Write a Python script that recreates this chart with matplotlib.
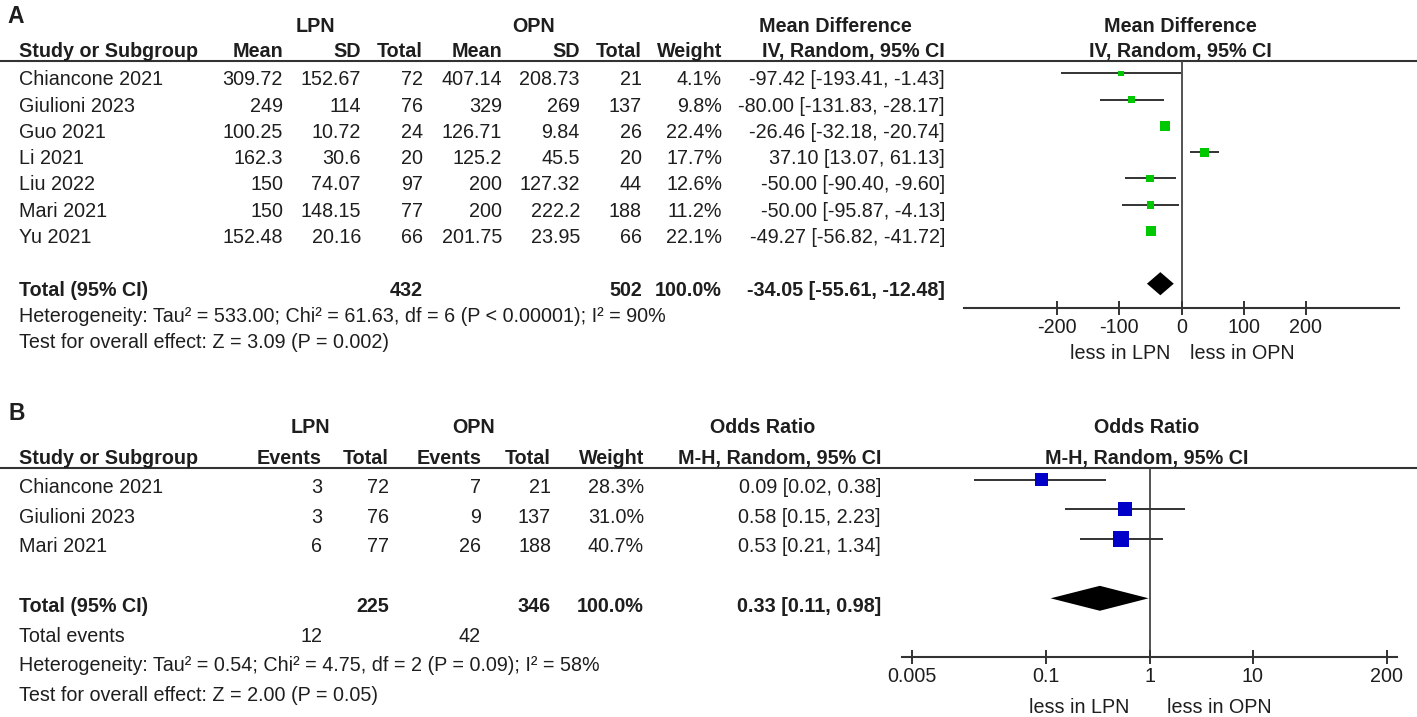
import numpy as np
import matplotlib
matplotlib.use("Agg")
import matplotlib.pyplot as plt
from matplotlib.ticker import FixedLocator, FixedFormatter, NullLocator

# ---- panel A: operative time (mean difference) ----
studies_a = ["Chiancone 2021", "Giulioni 2023", "Guo 2021", "Li 2021",
             "Liu 2022", "Mari 2021", "Yu 2021"]
lpn_mean = [309.72, 249, 100.25, 162.3, 150, 150, 152.48]
lpn_sd = [152.67, 114, 10.72, 30.6, 74.07, 148.15, 20.16]
lpn_n = [72, 76, 24, 20, 97, 77, 66]
opn_mean = [407.14, 329, 126.71, 125.2, 200, 200, 201.75]
opn_sd = [208.73, 269, 9.84, 45.5, 127.32, 222.2, 23.95]
opn_n = [21, 137, 26, 20, 44, 188, 66]
weight_a = [4.1, 9.8, 22.4, 17.7, 12.6, 11.2, 22.1]
md = [-97.42, -80.00, -26.46, 37.10, -50.00, -50.00, -49.27]
md_lo = [-193.41, -131.83, -32.18, 13.07, -90.40, -95.87, -56.82]
md_hi = [-1.43, -28.17, -20.74, 61.13, -9.60, -4.13, -41.72]
total_a = [432, 502]
pooled_md = [-34.05, -55.61, -12.48]
het_a = "Heterogeneity: Tau² = 533.00; Chi² = 61.63, df = 6 (P < 0.00001); I² = 90%"
test_a = "Test for overall effect: Z = 3.09 (P = 0.002)"
ticks_a = [-200, -100, 0, 100, 200]

# ---- panel B: complications (odds ratio) ----
studies_b = ["Chiancone 2021", "Giulioni 2023", "Mari 2021"]
lpn_events = [3, 3, 6]
lpn_total = [72, 76, 77]
opn_events = [7, 9, 26]
opn_total = [21, 137, 188]
weight_b = [28.3, 31.0, 40.7]
odds = [0.09, 0.58, 0.53]
odds_lo = [0.02, 0.15, 0.21]
odds_hi = [0.38, 2.23, 1.34]
total_b = [225, 346]
total_events = [12, 42]
pooled_or = [0.33, 0.11, 0.98]
het_b = "Heterogeneity: Tau² = 0.54; Chi² = 4.75, df = 2 (P = 0.09); I² = 58%"
test_b = "Test for overall effect: Z = 2.00 (P = 0.05)"
ticks_b = [0.005, 0.1, 1, 10, 200]

W, H, DPI = 1417, 717, 100
FS = 14.2
TXT = "#1e1e1e"
LINE = "#333333"
PT = DPI / 72.0

plt.rcParams["font.family"] = ["Liberation Sans", "DejaVu Sans"]
plt.rcParams["axes.unicode_minus"] = False

fig = plt.figure(figsize=(W / DPI, H / DPI), dpi=DPI)
tab = fig.add_axes([0, 0, 1, 1])
tab.set_xlim(0, W)
tab.set_ylim(H, 0)
tab.axis("off")


def txt(x, y, s, ha="right", bold=False, size=FS):
    tab.text(x, y, s, ha=ha, va="baseline", fontsize=size, color=TXT,
             fontweight="bold" if bold else "normal")


def forest(left, right, top, bottom, row0, step, est, lo, hi, side_px,
           pooled, dh, color, null):
    ax = fig.add_axes([left / W, 1 - bottom / H, (right - left) / W, (bottom - top) / H])
    ax.patch.set_alpha(0)
    ax.set_ylim((bottom - row0) / step, (top - row0) / step)
    rows = np.arange(len(est))
    ax.hlines(rows, lo, hi, color=LINE, lw=1.4, zorder=2)
    ax.scatter(est, rows, marker="s", s=(np.asarray(side_px) / PT) ** 2,
               color=color, linewidths=0, zorder=3)
    r = len(est) + 1
    ax.fill([pooled[1], pooled[0], pooled[2], pooled[0]],
            [r, r - dh, r, r + dh], color="black", lw=0, zorder=3)
    ax.axvline(null, color="#444444", lw=1.3, zorder=1)
    for s in ["top", "left", "right"]:
        ax.spines[s].set_visible(False)
    ax.spines["bottom"].set_color(LINE)
    ax.spines["bottom"].set_linewidth(1.5)
    ax.set_yticks([])
    ax.tick_params(axis="x", direction="inout", length=10, width=1.4,
                   colors=LINE, labelcolor=TXT, labelsize=FS, pad=2)
    return ax


# ================= panel A =================
a_row0, a_step, a_off = 73.3, 26.3, 12
a_text = lambda i: a_row0 + a_step * i + a_off

txt(7, 23, "A", ha="left", bold=True, size=16.5)
txt(315, 32, "LPN", ha="center", bold=True)
txt(534, 32, "OPN", ha="center", bold=True)
txt(835, 32, "Mean Difference", ha="center", bold=True)
txt(1180, 32, "Mean Difference", ha="center", bold=True)

cols_a = [283, 361, 423, 502, 580, 642, 722, 945]
heads_a = ["Mean", "SD", "Total", "Mean", "SD", "Total", "Weight", "IV, Random, 95% CI"]
txt(19, 57, "Study or Subgroup", ha="left", bold=True)
for x, h in zip(cols_a, heads_a):
    txt(x, 57, h, bold=True)
txt(1180, 57, "IV, Random, 95% CI", ha="center", bold=True)
tab.plot([0, W], [61, 61], color=LINE, lw=1.5)

for i, name in enumerate(studies_a):
    y = a_text(i)
    txt(19, y, name, ha="left")
    vals = [f"{lpn_mean[i]:g}", f"{lpn_sd[i]:g}", str(lpn_n[i]),
            f"{opn_mean[i]:g}", f"{opn_sd[i]:g}", str(opn_n[i]),
            f"{weight_a[i]:.1f}%",
            f"{md[i]:.2f} [{md_lo[i]:.2f}, {md_hi[i]:.2f}]"]
    for x, v in zip(cols_a, vals):
        txt(x, y, v)

y = a_text(8)
txt(19, y, "Total (95% CI)", ha="left", bold=True)
txt(cols_a[2], y, str(total_a[0]), bold=True)
txt(cols_a[5], y, str(total_a[1]), bold=True)
txt(cols_a[6], y, "100.0%", bold=True)
txt(cols_a[7], y, f"{pooled_md[0]:.2f} [{pooled_md[1]:.2f}, {pooled_md[2]:.2f}]", bold=True)
txt(19, a_text(9), het_a, ha="left")
txt(19, a_text(10), test_a, ha="left")

side_a = [1.5 + 1.8 * np.sqrt(w) for w in weight_a]
ax_a = forest(964, 1399, 61, 308, a_row0, a_step, md, md_lo, md_hi, side_a,
              pooled_md, 0.44, "#00c800", 0)
ax_a.set_xlim(-350, 350)
ax_a.xaxis.set_major_locator(FixedLocator(ticks_a))
ax_a.xaxis.set_major_formatter(FixedFormatter([str(t) for t in ticks_a]))
txt(1120, 359, "less in LPN", ha="center")
txt(1242, 359, "less in OPN", ha="center")

# ================= panel B =================
b_row0, b_step, b_off = 479.5, 29.7, 13.5
b_text = lambda i: b_row0 + b_step * i + b_off

txt(8, 420, "B", ha="left", bold=True, size=16.5)
txt(310, 433, "LPN", ha="center", bold=True)
txt(474, 433, "OPN", ha="center", bold=True)
txt(763, 433, "Odds Ratio", ha="center", bold=True)
txt(1147, 433, "Odds Ratio", ha="center", bold=True)

cols_b = [322, 389, 481, 551, 644, 881]
heads_b = ["Events", "Total", "Events", "Total", "Weight", "M-H, Random, 95% CI"]
txt(19, 464, "Study or Subgroup", ha="left", bold=True)
for x, h in zip(cols_b, heads_b):
    txt(x, 464, h, bold=True)
txt(1147, 464, "M-H, Random, 95% CI", ha="center", bold=True)
tab.plot([0, W], [468, 468], color=LINE, lw=1.5)

for i, name in enumerate(studies_b):
    y = b_text(i)
    txt(19, y, name, ha="left")
    vals = [str(lpn_events[i]), str(lpn_total[i]), str(opn_events[i]),
            str(opn_total[i]), f"{weight_b[i]:.1f}%",
            f"{odds[i]:.2f} [{odds_lo[i]:.2f}, {odds_hi[i]:.2f}]"]
    for x, v in zip(cols_b, vals):
        txt(x, y, v)

y = b_text(4)
txt(19, y, "Total (95% CI)", ha="left", bold=True)
txt(cols_b[1], y, str(total_b[0]), bold=True)
txt(cols_b[3], y, str(total_b[1]), bold=True)
txt(cols_b[4], y, "100.0%", bold=True)
txt(cols_b[5], y, f"{pooled_or[0]:.2f} [{pooled_or[1]:.2f}, {pooled_or[2]:.2f}]", bold=True)
y = b_text(5)
txt(19, y, "Total events", ha="left")
txt(cols_b[0], y, str(total_events[0]))
txt(cols_b[2], y, str(total_events[1]))
txt(19, b_text(6), het_b, ha="left")
txt(19, b_text(7), test_b, ha="left")

side_b = [2.55 * np.sqrt(w) for w in weight_b]
ax_b = forest(902, 1397, 468, 657, b_row0, b_step, odds, odds_lo, odds_hi, side_b,
              pooled_or, 0.42, "#0000c8", 1)
ax_b.set_xscale("log")
ax_b.set_xlim(10 ** -2.4, 10 ** 2.4)
ax_b.xaxis.set_major_locator(FixedLocator(ticks_b))
ax_b.xaxis.set_major_formatter(FixedFormatter([f"{t:g}" for t in ticks_b]))
ax_b.xaxis.set_minor_locator(NullLocator())
txt(1079, 713, "less in LPN", ha="center")
txt(1219, 713, "less in OPN", ha="center")

fig.savefig("out.png", dpi=DPI)
